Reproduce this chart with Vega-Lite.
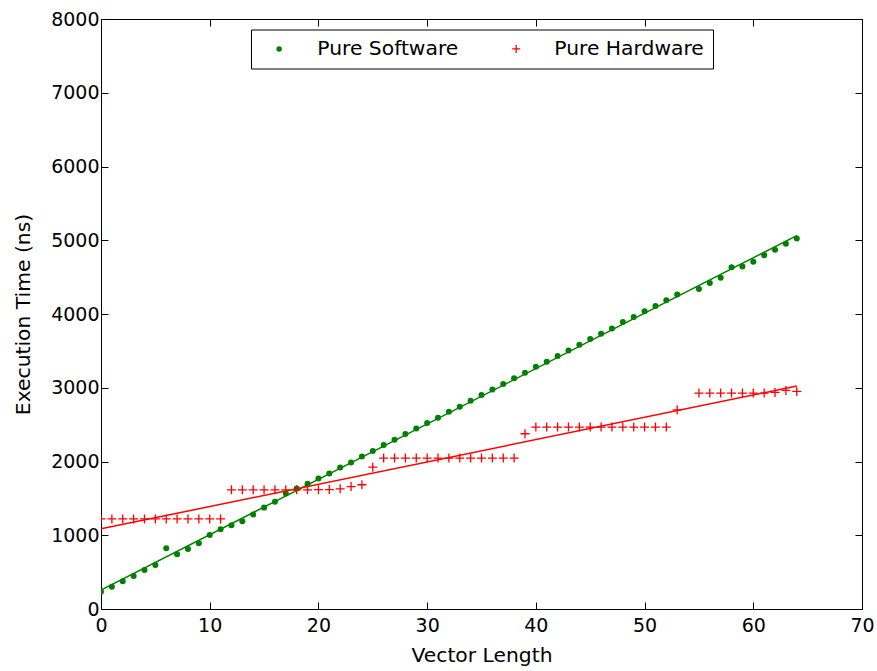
{
  "$schema": "https://vega.github.io/schema/vega-lite/v6.json",
  "width": 761,
  "height": 590,
  "autosize": {"type": "none"},
  "padding": {"left": 101, "top": 19, "right": 15, "bottom": 62},
  "background": "white",
  "config": {
    "font": "DejaVu Sans",
    "view": {"stroke": "black", "strokeWidth": 1},
    "axis": {
      "domainColor": "black", "domainWidth": 1,
      "tickColor": "black", "tickWidth": 1, "tickSize": -7,
      "labelColor": "black", "titleColor": "black",
      "labelFont": "DejaVu Sans", "titleFont": "DejaVu Sans",
      "labelFontSize": 19, "titleFontSize": 20.3, "titleFontWeight": "normal",
      "labelFlush": false,
      "grid": false
    }
  },
  "data": {"name": "pts"},
  "datasets": {
    "pts": [
      {"series": "Pure Software", "length": 0, "time": 235},
      {"series": "Pure Software", "length": 1, "time": 303},
      {"series": "Pure Software", "length": 2, "time": 376},
      {"series": "Pure Software", "length": 3, "time": 448},
      {"series": "Pure Software", "length": 4, "time": 529},
      {"series": "Pure Software", "length": 5, "time": 597},
      {"series": "Pure Software", "length": 6, "time": 824},
      {"series": "Pure Software", "length": 7, "time": 742},
      {"series": "Pure Software", "length": 8, "time": 815},
      {"series": "Pure Software", "length": 9, "time": 891},
      {"series": "Pure Software", "length": 10, "time": 1005},
      {"series": "Pure Software", "length": 11, "time": 1083},
      {"series": "Pure Software", "length": 12, "time": 1136},
      {"series": "Pure Software", "length": 13, "time": 1191},
      {"series": "Pure Software", "length": 14, "time": 1281},
      {"series": "Pure Software", "length": 15, "time": 1375},
      {"series": "Pure Software", "length": 16, "time": 1453},
      {"series": "Pure Software", "length": 17, "time": 1566},
      {"series": "Pure Software", "length": 18, "time": 1634},
      {"series": "Pure Software", "length": 19, "time": 1697},
      {"series": "Pure Software", "length": 20, "time": 1769},
      {"series": "Pure Software", "length": 21, "time": 1837},
      {"series": "Pure Software", "length": 22, "time": 1918},
      {"series": "Pure Software", "length": 23, "time": 1986},
      {"series": "Pure Software", "length": 24, "time": 2068},
      {"series": "Pure Software", "length": 25, "time": 2141},
      {"series": "Pure Software", "length": 26, "time": 2223},
      {"series": "Pure Software", "length": 27, "time": 2294},
      {"series": "Pure Software", "length": 28, "time": 2372},
      {"series": "Pure Software", "length": 29, "time": 2448},
      {"series": "Pure Software", "length": 30, "time": 2521},
      {"series": "Pure Software", "length": 31, "time": 2593},
      {"series": "Pure Software", "length": 32, "time": 2675},
      {"series": "Pure Software", "length": 33, "time": 2742},
      {"series": "Pure Software", "length": 34, "time": 2824},
      {"series": "Pure Software", "length": 35, "time": 2901},
      {"series": "Pure Software", "length": 36, "time": 2977},
      {"series": "Pure Software", "length": 37, "time": 3051},
      {"series": "Pure Software", "length": 38, "time": 3129},
      {"series": "Pure Software", "length": 39, "time": 3202},
      {"series": "Pure Software", "length": 40, "time": 3286},
      {"series": "Pure Software", "length": 41, "time": 3353},
      {"series": "Pure Software", "length": 42, "time": 3431},
      {"series": "Pure Software", "length": 43, "time": 3506},
      {"series": "Pure Software", "length": 44, "time": 3584},
      {"series": "Pure Software", "length": 45, "time": 3662},
      {"series": "Pure Software", "length": 46, "time": 3733},
      {"series": "Pure Software", "length": 47, "time": 3805},
      {"series": "Pure Software", "length": 48, "time": 3892},
      {"series": "Pure Software", "length": 49, "time": 3960},
      {"series": "Pure Software", "length": 50, "time": 4036},
      {"series": "Pure Software", "length": 51, "time": 4109},
      {"series": "Pure Software", "length": 52, "time": 4185},
      {"series": "Pure Software", "length": 53, "time": 4263},
      {"series": "Pure Software", "length": 55, "time": 4340},
      {"series": "Pure Software", "length": 56, "time": 4422},
      {"series": "Pure Software", "length": 57, "time": 4493},
      {"series": "Pure Software", "length": 58, "time": 4634},
      {"series": "Pure Software", "length": 59, "time": 4643},
      {"series": "Pure Software", "length": 60, "time": 4710},
      {"series": "Pure Software", "length": 61, "time": 4796},
      {"series": "Pure Software", "length": 62, "time": 4870},
      {"series": "Pure Software", "length": 63, "time": 4951},
      {"series": "Pure Software", "length": 64, "time": 5023},
      {"series": "Pure Hardware", "length": 0, "time": 1222},
      {"series": "Pure Hardware", "length": 1, "time": 1222},
      {"series": "Pure Hardware", "length": 2, "time": 1222},
      {"series": "Pure Hardware", "length": 3, "time": 1222},
      {"series": "Pure Hardware", "length": 4, "time": 1222},
      {"series": "Pure Hardware", "length": 5, "time": 1222},
      {"series": "Pure Hardware", "length": 6, "time": 1222},
      {"series": "Pure Hardware", "length": 7, "time": 1222},
      {"series": "Pure Hardware", "length": 8, "time": 1222},
      {"series": "Pure Hardware", "length": 9, "time": 1222},
      {"series": "Pure Hardware", "length": 10, "time": 1222},
      {"series": "Pure Hardware", "length": 11, "time": 1222},
      {"series": "Pure Hardware", "length": 12, "time": 1616},
      {"series": "Pure Hardware", "length": 13, "time": 1616},
      {"series": "Pure Hardware", "length": 14, "time": 1616},
      {"series": "Pure Hardware", "length": 15, "time": 1616},
      {"series": "Pure Hardware", "length": 16, "time": 1616},
      {"series": "Pure Hardware", "length": 17, "time": 1616},
      {"series": "Pure Hardware", "length": 18, "time": 1616},
      {"series": "Pure Hardware", "length": 19, "time": 1616},
      {"series": "Pure Hardware", "length": 20, "time": 1618},
      {"series": "Pure Hardware", "length": 21, "time": 1620},
      {"series": "Pure Hardware", "length": 22, "time": 1630},
      {"series": "Pure Hardware", "length": 23, "time": 1660},
      {"series": "Pure Hardware", "length": 24, "time": 1685},
      {"series": "Pure Hardware", "length": 25, "time": 1923},
      {"series": "Pure Hardware", "length": 26, "time": 2046},
      {"series": "Pure Hardware", "length": 27, "time": 2046},
      {"series": "Pure Hardware", "length": 28, "time": 2046},
      {"series": "Pure Hardware", "length": 29, "time": 2046},
      {"series": "Pure Hardware", "length": 30, "time": 2046},
      {"series": "Pure Hardware", "length": 31, "time": 2046},
      {"series": "Pure Hardware", "length": 32, "time": 2046},
      {"series": "Pure Hardware", "length": 33, "time": 2046},
      {"series": "Pure Hardware", "length": 34, "time": 2046},
      {"series": "Pure Hardware", "length": 35, "time": 2046},
      {"series": "Pure Hardware", "length": 36, "time": 2046},
      {"series": "Pure Hardware", "length": 37, "time": 2046},
      {"series": "Pure Hardware", "length": 38, "time": 2046},
      {"series": "Pure Hardware", "length": 39, "time": 2376},
      {"series": "Pure Hardware", "length": 40, "time": 2467},
      {"series": "Pure Hardware", "length": 41, "time": 2467},
      {"series": "Pure Hardware", "length": 42, "time": 2467},
      {"series": "Pure Hardware", "length": 43, "time": 2467},
      {"series": "Pure Hardware", "length": 44, "time": 2467},
      {"series": "Pure Hardware", "length": 45, "time": 2467},
      {"series": "Pure Hardware", "length": 46, "time": 2467},
      {"series": "Pure Hardware", "length": 47, "time": 2467},
      {"series": "Pure Hardware", "length": 48, "time": 2467},
      {"series": "Pure Hardware", "length": 49, "time": 2467},
      {"series": "Pure Hardware", "length": 50, "time": 2467},
      {"series": "Pure Hardware", "length": 51, "time": 2467},
      {"series": "Pure Hardware", "length": 52, "time": 2467},
      {"series": "Pure Hardware", "length": 53, "time": 2701},
      {"series": "Pure Hardware", "length": 55, "time": 2928},
      {"series": "Pure Hardware", "length": 56, "time": 2928},
      {"series": "Pure Hardware", "length": 57, "time": 2928},
      {"series": "Pure Hardware", "length": 58, "time": 2928},
      {"series": "Pure Hardware", "length": 59, "time": 2928},
      {"series": "Pure Hardware", "length": 60, "time": 2928},
      {"series": "Pure Hardware", "length": 61, "time": 2928},
      {"series": "Pure Hardware", "length": 62, "time": 2937},
      {"series": "Pure Hardware", "length": 63, "time": 2964},
      {"series": "Pure Hardware", "length": 64, "time": 2950}
    ]
  },
  "layer": [
    {
      "transform": [{"regression": "time", "on": "length", "groupby": ["series"], "extent": [0, 64]}],
      "mark": {"type": "line", "strokeWidth": 1.5, "clip": true},
      "encoding": {
        "x": {"field": "length", "type": "quantitative", "scale": {"domain": [0, 70], "nice": false},
              "axis": {"orient": "top", "labels": false, "title": null, "values": [0, 10, 20, 30, 40, 50, 60, 70]}},
        "y": {"field": "time", "type": "quantitative", "scale": {"domain": [0, 8000], "nice": false},
              "axis": {"orient": "right", "labels": false, "title": null, "values": [0, 1000, 2000, 3000, 4000, 5000, 6000, 7000, 8000]}},
        "stroke": {"field": "series", "type": "nominal",
                   "scale": {"domain": ["Pure Software", "Pure Hardware"], "range": ["#008000", "#ff0000"]},
                   "legend": {"title": null, "orient": "none", "legendX": 150, "legendY": 10.5, "direction": "horizontal",
                              "strokeColor": "black", "fillColor": "white", "padding": 9, "symbolOffset": 9,
                              "labelOffset": 28, "columnPadding": 38, "labelFontSize": 20.3, "labelFont": "DejaVu Sans",
                              "labelColor": "black", "symbolStrokeWidth": 1.3, "symbolSize": 49, "symbolType": "circle", "cornerRadius": 0,
                              "encode": {"symbols": {"update": {
                                "shape": {"signal": "datum.value === 'Pure Hardware' ? 'M-1,0H1M0,-1V1' : 'circle'"},
                                "fill": {"signal": "datum.value === 'Pure Hardware' ? 'transparent' : '#008000'"},
                                "stroke": {"signal": "datum.value === 'Pure Hardware' ? '#ff0000' : '#008000'"},
                                "strokeWidth": {"signal": "datum.value === 'Pure Hardware' ? 1.3 : 0"},
                                "size": {"signal": "datum.value === 'Pure Hardware' ? 64 : 30"}
                              }}}}}
      }
    },
    {
      "transform": [{"filter": "datum.series === 'Pure Software'"}],
      "mark": {"type": "point", "filled": true, "size": 36, "opacity": 1, "clip": true},
      "encoding": {
        "x": {"field": "length", "type": "quantitative",
              "axis": {"orient": "bottom", "title": "Vector Length", "values": [0, 10, 20, 30, 40, 50, 60, 70], "format": "d", "labelPadding": 14, "titlePadding": 10}},
        "y": {"field": "time", "type": "quantitative",
              "axis": {"orient": "left", "title": "Execution Time (ns)", "values": [0, 1000, 2000, 3000, 4000, 5000, 6000, 7000, 8000], "format": "d", "labelPadding": 9, "titlePadding": 17}},
        "fill": {"field": "series", "type": "nominal",
                 "scale": {"domain": ["Pure Software", "Pure Hardware"], "range": ["#008000", "#ff0000"]},
                 "legend": null}
      }
    },
    {
      "transform": [{"filter": "datum.series === 'Pure Hardware'"}],
      "mark": {"type": "point", "shape": "M-1,0H1M0,-1V1", "filled": false, "size": 81, "strokeWidth": 1.3, "opacity": 1, "clip": true},
      "encoding": {
        "x": {"field": "length", "type": "quantitative", "axis": null},
        "y": {"field": "time", "type": "quantitative", "axis": null},
        "stroke": {"field": "series", "type": "nominal"}
      }
    }
  ],
  "resolve": {"axis": {"x": "independent", "y": "independent"}}
}
